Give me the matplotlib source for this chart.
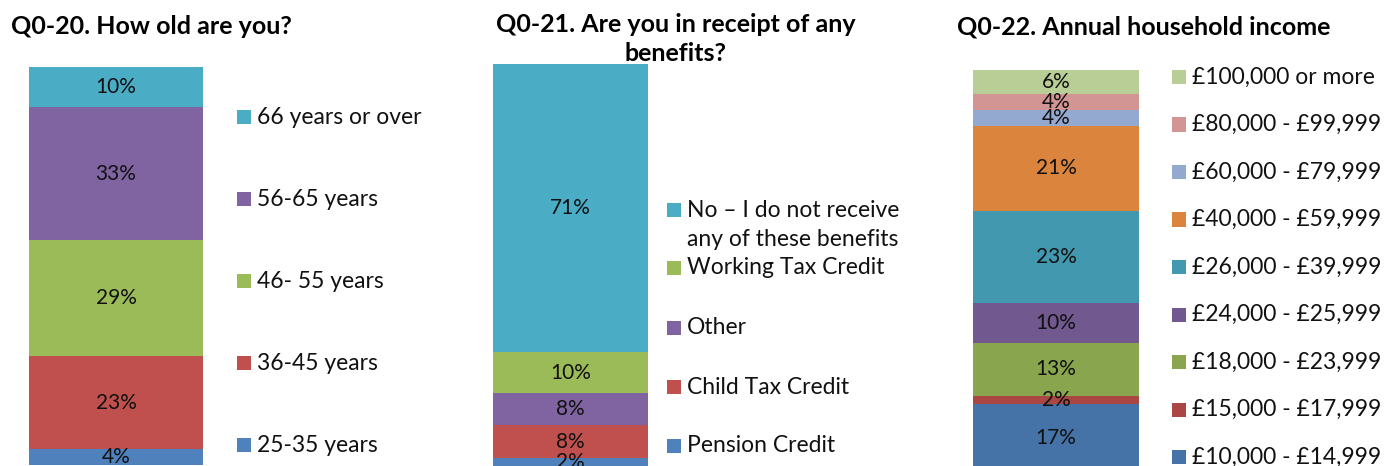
import matplotlib

matplotlib.use("Agg")
import matplotlib.pyplot as plt  # noqa: E402
from matplotlib.patches import Rectangle  # noqa: E402

plt.rcParams["font.family"] = ["Lato", "DejaVu Sans"]

W, H = 1397, 466
DPI = 100

# Q0-20, bottom segment first
age_labels = ["25-35 years", "36-45 years", "46- 55 years", "56-65 years", "66 years or over"]
age_values = [4, 23, 29, 33, 10]
age_colors = ["#4F81BD", "#C0504D", "#9BBB59", "#8064A2", "#4BACC6"]

# Q0-21
benefit_labels = ["Pension Credit", "Child Tax Credit", "Other", "Working Tax Credit",
                  "No \u2013 I do not receive\nany of these benefits"]
benefit_values = [2, 8, 8, 10, 71]
benefit_colors = ["#4F81BD", "#C0504D", "#8064A2", "#9BBB59", "#4BACC6"]

# Q0-22
income_labels = ["\u00a310,000 - \u00a314,999", "\u00a315,000 - \u00a317,999",
                 "\u00a318,000 - \u00a323,999", "\u00a324,000 - \u00a325,999",
                 "\u00a326,000 - \u00a339,999", "\u00a340,000 - \u00a359,999",
                 "\u00a360,000 - \u00a379,999", "\u00a380,000 - \u00a399,999",
                 "\u00a3100,000 or more"]
income_values = [17, 2, 13, 10, 23, 21, 4, 4, 6]
income_colors = ["#4572A7", "#AA4643", "#89A54E", "#71588F", "#4198AF",
                 "#DB843D", "#93A9D0", "#D39494", "#B9CD96"]

fig = plt.figure(figsize=(W / DPI, H / DPI), dpi=DPI)


def fx(x):
    return x / W


def fy(y):
    return 1 - y / H


def stacked_bar(left, right, top, values, colors, px_per_pct=4.02):
    total = sum(values)
    height = total * px_per_pct
    ax = fig.add_axes([fx(left), fy(top + height), (right - left) / W, height / H])
    bottom = 0
    for v, c in zip(values, colors):
        ax.bar(0, v, bottom=bottom, width=1, color=c, linewidth=0)
        ax.text(0, bottom + v / 2, f"{v}%", ha="center", va="center",
                fontsize=15, color="#111111")
        bottom += v
    ax.set_xlim(-0.5, 0.5)
    ax.set_ylim(0, total)
    ax.axis("off")
    return ax


def legend(x, ys, labels, colors):
    # entries listed top to bottom
    for y, lab, c in zip(ys, labels, colors):
        fig.add_artist(Rectangle((fx(x), fy(y + 7)), 14 / W, 14 / H,
                                 transform=fig.transFigure, color=c, lw=0))
        if "\n" in lab:
            fig.text(fx(x + 20), fy(y - 10), lab, ha="left", va="top",
                     fontsize=16.5, color="#111111", linespacing=1.45)
        else:
            fig.text(fx(x + 20), fy(y), lab, ha="left", va="center",
                     fontsize=16.5, color="#111111")


stacked_bar(29, 203, 67, age_values, age_colors)
stacked_bar(493, 648, 64, benefit_values, benefit_colors, px_per_pct=4.06)
stacked_bar(973, 1139, 70, income_values, income_colors)

legend(237, [117 + 82 * i for i in range(5)], age_labels[::-1], age_colors[::-1])
legend(667, [210, 268, 328, 387, 446], benefit_labels[::-1], benefit_colors[::-1])
legend(1172, [77 + 47.5 * i for i in range(9)], income_labels[::-1], income_colors[::-1])

fig.text(fx(151), fy(27), "Q0-20. How old are you?", ha="center", va="center",
         fontsize=18, fontweight="bold")
fig.text(fx(676), fy(39), "Q0-21. Are you in receipt of any\nbenefits?", ha="center",
         va="center", fontsize=18, fontweight="bold", linespacing=1.3)
fig.text(fx(1144), fy(27), "Q0-22. Annual household income", ha="center", va="center",
         fontsize=18, fontweight="bold")

fig.savefig("out.png", dpi=DPI)
